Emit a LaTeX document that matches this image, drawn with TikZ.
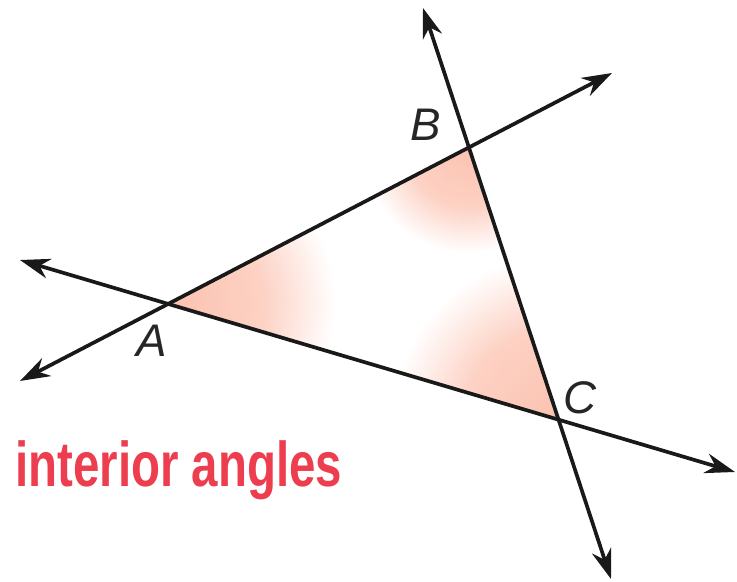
\documentclass[tikz,border=0pt]{standalone}
\usepackage{fontspec}
\setmainfont{Liberation Sans}
\usepackage{xcolor}
\usepackage{tikz}
\usetikzlibrary{arrows.meta,positioning,fadings}

\definecolor{peach}{RGB}{252,194,176}
\definecolor{anglered}{RGB}{236,62,78}
\pgfdeclareradialshading{vfadeshade}{\pgfpointorigin}{color(0bp)=(pgftransparent!0); color(14bp)=(pgftransparent!25); color(25bp)=(pgftransparent!100); color(50bp)=(pgftransparent!100)}
\pgfdeclarefading{vertexfade}{\pgfuseshading{vfadeshade}}

\begin{document}
\begin{tikzpicture}

    % Styles for lines, shading and labels
    \tikzset{
        biline/.style={{Stealth[length=6mm,width=4mm]}-{Stealth[length=6mm,width=4mm]}, line width=2.1pt, black!90},
        anglefill/.style={fill=peach, path fading=vertexfade},
        ptlabel/.style={font=\fontsize{26}{28}\selectfont\itshape, inner sep=0pt, text=black!85},
        caption/.style={font=\fontsize{36}{40}\selectfont\bfseries, text=anglered, inner sep=0pt, anchor=base west}
    }

    \useasboundingbox (0,0) rectangle (14.74,-11.64);

    % Vertices of the triangle
    \coordinate (A) at (3.4,-6.06);
    \coordinate (B) at (9.36,-2.96);
    \coordinate (C) at (11.16,-8.4);

    % Free ends of the three lines
    \coordinate (abL) at (0.4,-7.62);
    \coordinate (abR) at (12.24,-1.46);
    \coordinate (acL) at (0.4,-5.2);
    \coordinate (acR) at (14.7,-9.44);
    \coordinate (bcT) at (8.46,-0.16);
    \coordinate (bcB) at (12.22,-11.58);

    % Shaded interior angles
    \begin{scope}
        \clip (A) -- (B) -- (C) -- cycle;
        \fill[anglefill] (A) circle (3.3cm);
        \fill[anglefill] (B) circle (2.1cm);
        \fill[anglefill] (C) circle (3.3cm);
    \end{scope}

    % Lines through the vertices
    \draw[biline] (abL) -- (abR);
    \draw[biline] (acL) -- (acR);
    \draw[biline] (bcT) -- (bcB);

    % Vertex labels
    \node[ptlabel] (labA) at ([shift={(-0.36,-0.76)}]A) {A};
    \node[ptlabel] (labB) at ([shift={(-0.84,0.46)}]B) {B};
    \node[ptlabel] (labC) at ([shift={(0.44,0.44)}]C) {C};

    % Caption
    \node[caption] (cap) at (0.3,-9.74) {\scalebox{0.75}[1]{interior angles}};

\end{tikzpicture}
\end{document}
